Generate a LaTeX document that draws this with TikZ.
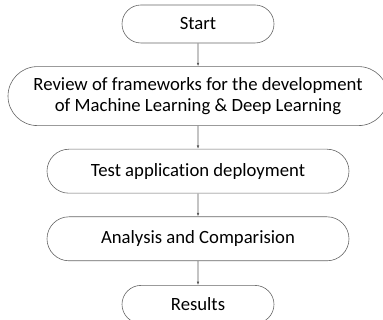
\documentclass[tikz,border=0pt]{standalone}
\usepackage{fontspec}
\setmainfont{Carlito}[Ligatures=NoCommon]
\usetikzlibrary{positioning,shapes.misc,arrows.meta}

\begin{document}
\begin{tikzpicture}[x=1pt,y=-1pt,
  stage/.style={rounded rectangle, draw=black!60, line width=0.6pt, align=center,
    font=\fontsize{18.7}{21.5}\selectfont, inner sep=0pt},
  flow/.style={draw=black!65, line width=0.6pt, -{Latex[length=3.5pt,width=2.6pt]}},
  node distance=23pt]

%page
\useasboundingbox (0,0) rectangle (383,320);

%stages
\node[stage, minimum width=152pt, minimum height=38pt] (start) at (198,24) {Start};
\node[stage, minimum width=380pt, minimum height=59pt, below=of start] (review)
  {Review of frameworks for the development\\of Machine Learning \& Deep Learning};
\node[stage, minimum width=302pt, minimum height=44pt, below=of review] (deploy) {Test application deployment};
\node[stage, minimum width=302pt, minimum height=44pt, below=of deploy] (analysis) {Analysis and Comparision};
\node[stage, minimum width=152pt, minimum height=38pt, below=24pt of analysis] (results) {Results};

%arrows
\foreach \a/\b in {start/review,review/deploy,deploy/analysis,analysis/results}
  \draw[flow] (\a) -- (\b);

\end{tikzpicture}
\end{document}
